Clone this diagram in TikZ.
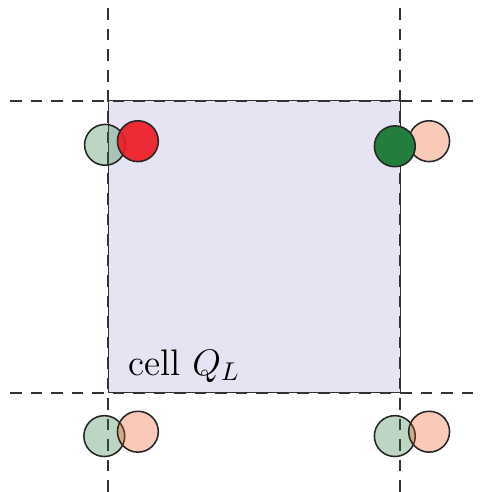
\documentclass[tikz,border=0pt]{standalone}
\usetikzlibrary{positioning}
\definecolor{cellfill}{RGB}{228,228,242}
\definecolor{ghostgreen}{RGB}{35,120,55}
\definecolor{ghostorange}{RGB}{238,80,20}
\definecolor{solidred}{RGB}{237,28,36}
\definecolor{solidgreen}{RGB}{35,125,60}
\tikzset{
    gridline/.style={draw=black!80, line width=0.45pt, dash pattern=on 4.5pt off 3.5pt},
    particle/.style={draw=black!85, circle, line width=0.6pt, minimum size=0.56cm, inner sep=0pt}
}
\begin{document}
\begin{tikzpicture}
    \useasboundingbox (-1.479,-1.356) rectangle (5.233,5.384);
    %   The cell itself
    \node[draw=black!80, rectangle, fill=cellfill, line width=0.45pt, minimum width=4cm, minimum height=4cm, anchor=south west, inner sep=0pt] (cell) at (0,0) {};
    \node[anchor=south west, inner sep=0pt, font=\Large] (celllabel) at (0.27,0.14) {cell $Q_L$};
    %   Grid lines through the corners
    \draw[gridline] (0,-1.356) -- (0,5.384);
    \draw[gridline] (4,-1.356) -- (4,5.384);
    \draw[gridline] (-1.34,0) -- (5.1,0);
    \draw[gridline] (-1.34,4) -- (5.1,4);
    %   Particles at the top
    \node[particle, fill=ghostgreen, fill opacity=0.3] (ghostTL) at (-0.04,3.40) {};
    \node[particle, fill=solidred, fill opacity=0.92] (realTL) at (0.41,3.45) {};
    \node[particle, fill=ghostorange, fill opacity=0.3] (ghostTR) at (4.40,3.45) {};
    \node[particle, fill=solidgreen] (realTR) at (3.93,3.38) {};
    %   Particles at the bottom
    \node[particle, fill=ghostgreen, fill opacity=0.3] (ghostBLg) at (-0.05,-0.59) {};
    \node[particle, fill=ghostorange, fill opacity=0.3] (ghostBLo) at (0.41,-0.53) {};
    \node[particle, fill=ghostgreen, fill opacity=0.3] (ghostBRg) at (3.93,-0.59) {};
    \node[particle, fill=ghostorange, fill opacity=0.3] (ghostBRo) at (4.40,-0.53) {};
\end{tikzpicture}
\end{document}
